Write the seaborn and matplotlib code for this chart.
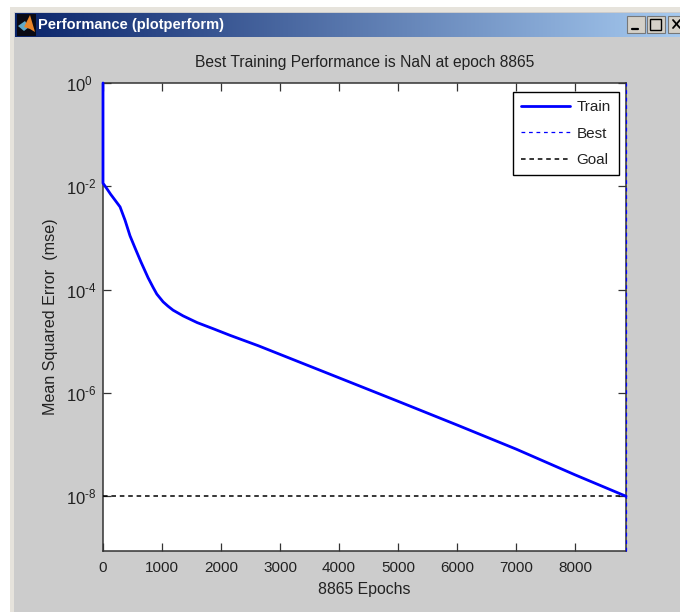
import numpy as np
import pandas as pd
import seaborn as sns
import matplotlib.pyplot as plt
from matplotlib.patches import Rectangle, Polygon

# values
EPOCHS = [0, 0, 60, 130, 204, 289, 374, 458, 543, 645, 764, 850, 912, 1019, 1100, 1188, 1358, 1596,
          1868, 2156, 2632, 4007, 5000, 6000, 7000, 8000, 8865]
TRAIN_MSE = [1.0, 1.15e-2, 9.2e-3, 7.0e-3, 5.4e-3, 4.0e-3, 2.2e-3, 1.1e-3, 6.4e-4, 3.4e-4, 1.7e-4,
             1.1e-4, 8.2e-5, 5.8e-5, 4.8e-5, 4.0e-5, 3.1e-5, 2.3e-5, 1.75e-5, 1.3e-5, 8.2e-6,
             1.95e-6, 6.9e-7, 2.4e-7, 8.2e-8, 2.6e-8, 1.0e-8]
BEST_EPOCH = 8865
GOAL = 1e-8
X_TICKS = [0, 1000, 2000, 3000, 4000, 5000, 6000, 7000, 8000]
Y_TICKS = [1e0, 1e-2, 1e-4, 1e-6, 1e-8]
Y_TICK_LABELS = ["0", "-2", "-4", "-6", "-8"]

TITLE = "Best Training Performance is NaN at epoch 8865"
WINDOW_TITLE = "Performance (plotperform)"
X_LABEL = "8865 Epochs"
Y_LABEL = "Mean Squared Error  (mse)"

GREY = "#cccccc"
TEXT = "#222222"
W, H = 680, 612

sns.set_theme(style="ticks")
plt.rcParams["font.family"] = ["Liberation Sans", "DejaVu Sans"]
plt.rcParams["mathtext.fontset"] = "custom"
plt.rcParams["mathtext.rm"] = "Liberation Sans"
plt.rcParams["mathtext.default"] = "regular"

fig = plt.figure(figsize=(W / 100, H / 100), dpi=100, facecolor="white")

# window chrome, in pixel coordinates
chrome = fig.add_axes([0, 0, 1, 1])
chrome.set_xlim(0, W)
chrome.set_ylim(H, 0)
chrome.axis("off")
chrome.add_patch(Rectangle((10, 7), W - 10, 605, fc="#e6e3dc", ec="none"))
chrome.add_patch(Rectangle((14, 12), W - 14, 600, fc=GREY, ec="none"))
gradient = np.linspace(0, 1, 256).reshape(1, -1, 1)
c0 = np.array([10, 36, 106]).reshape(1, 1, 3) / 255
c1 = np.array([166, 202, 240]).reshape(1, 1, 3) / 255
chrome.imshow(c0 + (c1 - c0) * gradient, extent=(15, W, 37, 13), aspect="auto", zorder=2)
chrome.set_xlim(0, W)
chrome.set_ylim(H, 0)
chrome.add_patch(Rectangle((17, 14), 19, 22, fc="#0a0a14", ec="none", zorder=3))
chrome.add_patch(Polygon([[18, 26], [25, 21], [29, 27], [24, 31]], fc="#5fa8c8", ec="none", zorder=4))
chrome.add_patch(Polygon([[24, 27], [30, 15], [35, 32], [30, 29]], fc="#e8852a", ec="none", zorder=4))
chrome.text(38, 25.5, WINDOW_TITLE, color="white", fontsize=10.5, fontweight="bold",
            va="center", ha="left", zorder=4)
for bx, glyph in zip([627, 647, 668], ["min", "max", "close"]):
    chrome.add_patch(Rectangle((bx, 16), 18, 17, fc="#d4d0c8", ec="#777777", lw=0.8, zorder=3))
    if glyph == "min":
        chrome.plot([bx + 5, bx + 11], [29, 29], color="black", lw=1.6, zorder=4)
    elif glyph == "max":
        chrome.add_patch(Rectangle((bx + 3, 19), 11, 11, fc="none", ec="black", lw=1.0, zorder=4))
    else:
        chrome.plot([bx + 5, bx + 12], [20, 28], color="black", lw=1.3, zorder=4)
        chrome.plot([bx + 5, bx + 12], [28, 20], color="black", lw=1.3, zorder=4)

# plot axes
ax = fig.add_axes([103 / W, 1 - 551 / H, (626 - 103) / W, (551 - 83) / H])
ax.set_facecolor("white")

df = pd.DataFrame({"epoch": EPOCHS, "mse": TRAIN_MSE})
sns.lineplot(data=df, x="epoch", y="mse", ax=ax, color="#0000ff", lw=2.0,
             estimator=None, sort=False, label="Train", clip_on=False, zorder=4)
ax.axvline(BEST_EPOCH, color="#0000ff", ls=(0, (3, 3)), lw=0.9, label="Best", clip_on=False, zorder=3)
ax.axhline(GOAL, color="black", ls=(0, (3, 2.5)), lw=1.1, label="Goal", zorder=3)

ax.set_yscale("log")
ax.set_xlim(0, 8865)
ax.set_ylim(10 ** -9.06, 1)
ax.set_xticks(X_TICKS)
ax.set_xticklabels([str(t) for t in X_TICKS])
ax.set_yticks(Y_TICKS)
ax.set_yticklabels([r"$10^{\text{%s}}$" % s for s in Y_TICK_LABELS])
ax.minorticks_off()
ax.tick_params(axis="both", which="major", direction="in", length=6, width=0.9,
               top=True, right=True, labelcolor=TEXT, color="#333333")
ax.tick_params(axis="x", labelsize=11, pad=7)
ax.tick_params(axis="y", labelsize=12, pad=26.5)
for lab in ax.get_yticklabels():
    lab.set_ha("left")
for side in ax.spines:
    ax.spines[side].set_visible(True)
    ax.spines[side].set_color("#333333")
    ax.spines[side].set_linewidth(1.1)

ax.set_title(TITLE, fontsize=11.25, color=TEXT, pad=11.5)
ax.set_xlabel(X_LABEL, fontsize=11.4, color=TEXT, labelpad=5.5)
ax.set_ylabel(Y_LABEL, fontsize=11.6, color=TEXT, labelpad=6)

leg = ax.legend(loc="upper right", bbox_to_anchor=(516 / 523, 459 / 468), fontsize=11, frameon=True,
                fancybox=False, framealpha=1, edgecolor="black", borderaxespad=0,
                handlelength=3.2, labelspacing=0.8, handletextpad=0.4, borderpad=0.55)
leg.get_frame().set_linewidth(1.0)
for t in leg.get_texts():
    t.set_color(TEXT)

fig.savefig("out.png", dpi=100, facecolor=fig.get_facecolor())
